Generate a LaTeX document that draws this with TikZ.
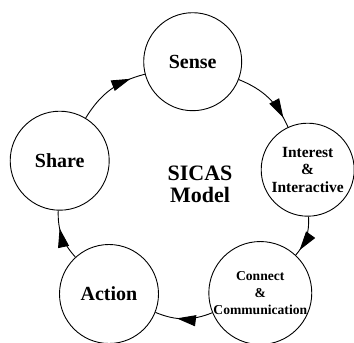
\documentclass[tikz,border=0pt]{standalone}
\usepackage{fontspec}
\setmainfont{Liberation Serif}
\usetikzlibrary{arrows.meta,decorations.markings}
\tikzset{
  stage/.style={draw, circle, line width=0.9pt, inner sep=0pt, align=center, font=\bfseries},
  ring/.style={line width=0.9pt, bend left=22, postaction={decorate},
    decoration={markings, mark=at position #1 with {\arrow[line width=0.9pt]{Triangle[length=19pt,width=11pt]}}}}
}
\begin{document}
\begin{tikzpicture}[x=1pt,y=-1pt]
\useasboundingbox (0,0) rectangle (354,343);
\node[stage, minimum size=98pt, font=\bfseries\fontsize{20}{22}\selectfont] (S) at (192.7,61.7) {Sense};
\node[stage, minimum size=93pt, font=\bfseries\fontsize{15.5}{17.5}\selectfont] (I) at (307.7,169.7) {Interest\\\&\\Interactive};
\node[stage, minimum size=99pt, font=\bfseries\fontsize{13.6}{17}\selectfont] (C) at (260.3,293) {Connect\\\&\\Communication};
\node[stage, minimum size=99pt, font=\bfseries\fontsize{20}{22}\selectfont] (A) at (109,294) {Action};
\node[stage, minimum size=99pt, font=\bfseries\fontsize{20}{22}\selectfont] (H) at (59.7,160.7) {Share};
\node[font=\bfseries\fontsize{22}{21.7}\selectfont, align=center] (M) at (200,184) {SICAS\\Model};
\draw[ring=0.85] (S) to (I);
\draw[ring=0.85] (I) to (C);
\draw[ring=0.62] (C) to (A);
\draw[ring=0.65] (A) to (H);
\draw[ring=0.8] (H) to (S);
\end{tikzpicture}
\end{document}
